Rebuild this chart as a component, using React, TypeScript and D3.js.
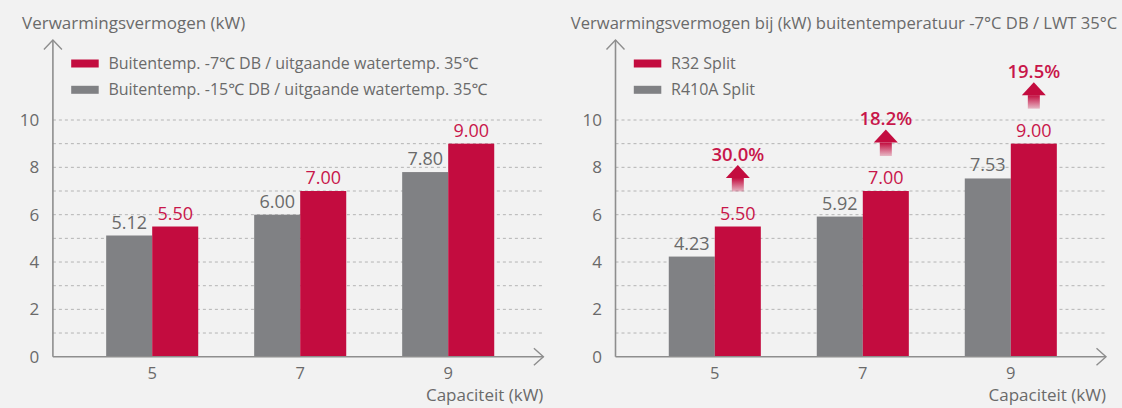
import React from "react";
import * as d3 from "d3";

const categories = ["5", "7", "9"];
const leftGray = [5.12, 6.0, 7.8];
const leftRed = [5.5, 7.0, 9.0];
const rightGray = [4.23, 5.92, 7.53];
const rightRed = [5.5, 7.0, 9.0];
const rightPct = ["30.0%", "18.2%", "19.5%"];
const yTicks = [0, 2, 4, 6, 8, 10];
const gridValues = [1, 2, 3, 4, 5, 6, 7, 8, 9, 10];

const leftTitle = "Verwarmingsvermogen (kW)";
const rightTitle = "Verwarmingsvermogen bij (kW) buitentemperatuur -7°C DB / LWT 35°C";
const leftLegend = ["Buitentemp. -7℃ DB / uitgaande watertemp. 35℃", "Buitentemp. -15℃ DB / uitgaande watertemp. 35℃"];
const rightLegend = ["R32 Split", "R410A Split"];
const xTitle = "Capaciteit (kW)";

const W = 1122;
const H = 408;
const RED = "#c30c3f";
const RED_TEXT = "#c8164a";
const GRAY = "#808184";
const TEXT = "#6a6a6a";
const AXIS = "#8e8e8e";
const FONT = "'Open Sans', 'Noto Sans', sans-serif";

const y = d3.scaleLinear().domain([0, 10]).range([356.7, 120]);

type PanelProps = {
  axisX: number;
  titleX: number;
  titleSize: number;
  title: string;
  legend: string[];
  gray: number[];
  red: number[];
  pct?: string[];
  id: string;
};

function Panel({ axisX, titleX, titleSize, title, legend, gray, red, pct, id }: PanelProps) {
  const gridEnd = axisX + 491.5;
  const x = d3.scaleBand<string>().domain(categories).range([axisX + 25.3, axisX + 469.3]).padding(0);
  const bw = x.bandwidth();
  const barW = bw * 0.311;
  const inner = d3.scaleBand<string>().domain(["gray", "red"]).range([bw / 2 - barW, bw / 2 + barW]);
  const y0 = y(0);
  const tipY = 40;
  return (
    <g>
      <text x={titleX} y={28.5} fontSize={titleSize} fill={TEXT} fontFamily={FONT}>{title}</text>
      {gridValues.map((v) => (
        <line key={v} x1={axisX} x2={gridEnd} y1={y(v)} y2={y(v)} stroke="#b4b4b4" strokeWidth={1} strokeDasharray="3 3" />
      ))}
      {yTicks.map((v) => (
        <text key={v} x={axisX - 13.6} y={y(v)} dy="0.35em" textAnchor="end" fontSize={17} fill={TEXT} fontFamily={FONT}>{v}</text>
      ))}
      {categories.map((c, i) => {
        const bx = x(c) as number;
        const gx = bx + (inner("gray") as number);
        const rx = bx + (inner("red") as number);
        const bwi = inner.bandwidth();
        const yr = y(red[i]);
        const cxr = rx + bwi / 2;
        return (
          <g key={c}>
            <rect x={gx} y={y(gray[i])} width={bwi} height={y0 - y(gray[i])} fill={GRAY} />
            <rect x={rx} y={yr} width={bwi} height={y0 - yr} fill={RED} />
            <text x={gx + bwi / 2} y={y(gray[i]) - 7} textAnchor="middle" fontSize={18} fill={TEXT} fontFamily={FONT}>{gray[i].toFixed(2)}</text>
            <text x={cxr} y={yr - 7} textAnchor="middle" fontSize={18} fill={RED_TEXT} fontFamily={FONT}>{red[i].toFixed(2)}</text>
            <text x={bx + bw / 2} y={378.5} textAnchor="middle" fontSize={16.5} fill={TEXT} fontFamily={FONT}>{c}</text>
            {pct && (
              <g>
                <text x={cxr} y={yr - 66} textAnchor="middle" fontSize={18.5} fontWeight={600} fill={RED_TEXT} fontFamily={FONT}>{pct[i]}</text>
                <polygon points={`${cxr},${yr - 61.5} ${cxr - 12},${yr - 48.5} ${cxr + 12},${yr - 48.5}`} fill={RED} />
                <rect x={cxr - 6} y={yr - 48.5} width={12} height={13.5} fill={`url(#stem-${id})`} />
              </g>
            )}
          </g>
        );
      })}
      {/* axes */}
      <line x1={axisX} x2={axisX} y1={y0} y2={tipY} stroke={AXIS} strokeWidth={1.6} />
      <polyline points={`${axisX - 9},${tipY + 9.5} ${axisX},${tipY} ${axisX + 9},${tipY + 9.5}`} fill="none" stroke={AXIS} strokeWidth={1.4} />
      <line x1={axisX} x2={axisX + 490.5} y1={y0} y2={y0} stroke={AXIS} strokeWidth={1.6} />
      <polyline points={`${axisX + 481},${y0 - 8.5} ${axisX + 490.5},${y0} ${axisX + 481},${y0 + 8.5}`} fill="none" stroke={AXIS} strokeWidth={1.4} />
      <text x={axisX + 490.5} y={401} textAnchor="end" fontSize={17} fill={TEXT} fontFamily={FONT}>{xTitle}</text>
      {/* legend */}
      {legend.map((l, i) => (
        <g key={l}>
          <rect x={axisX + 18.3} y={59.5 + i * 26.3} width={27.5} height={8} fill={i === 0 ? RED : GRAY} />
          <text x={axisX + 55.5} y={69.3 + i * 25.8} fontSize={16} fill={TEXT} fontFamily={FONT}>{l}</text>
        </g>
      ))}
      <defs>
        <linearGradient id={`stem-${id}`} x1="0" y1="0" x2="0" y2="1">
          <stop offset="0" stopColor={RED} stopOpacity={1} />
          <stop offset="1" stopColor={RED} stopOpacity={0.25} />
        </linearGradient>
      </defs>
    </g>
  );
}

export default function App() {
  return (
    <svg width={W} height={H} style={{ position: "absolute", left: 0, top: 0, display: "block" }}>
      <rect x={0} y={0} width={W} height={H} fill="#f2f2f2" />
      <Panel axisX={52.9} titleX={22} titleSize={17} title={leftTitle} legend={leftLegend} gray={leftGray} red={leftRed} id="l" />
      <Panel axisX={615.5} titleX={570.8} titleSize={16.6} title={rightTitle} legend={rightLegend} gray={rightGray} red={rightRed} pct={rightPct} id="r" />
    </svg>
  );
}
